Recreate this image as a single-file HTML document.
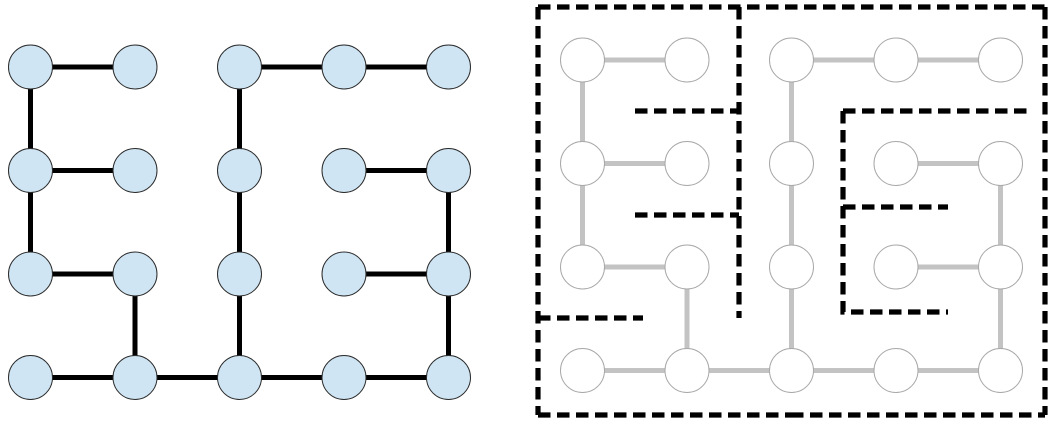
<!DOCTYPE html>
<html>
<head>
<meta charset="utf-8">
<style>
  html, body { margin: 0; padding: 0; background: #ffffff; }
  body { width: 1055px; height: 424px; overflow: hidden; }
  svg { display: block; }
</style>
</head>
<body>
<svg width="1055" height="424" viewBox="0 0 1055 424" xmlns="http://www.w3.org/2000/svg">
  <!-- LEFT GRAPH edges -->
  <g stroke="#000" stroke-width="5" stroke-linecap="butt" fill="none">
    <line x1="30.5" y1="67" x2="135" y2="67"/>
    <line x1="239.5" y1="67" x2="344" y2="67"/>
    <line x1="344" y1="67" x2="448.5" y2="67"/>
    <line x1="30.5" y1="67" x2="30.5" y2="170.5"/>
    <line x1="30.5" y1="170.5" x2="30.5" y2="274"/>
    <line x1="239.5" y1="67" x2="239.5" y2="377.5"/>
    <line x1="30.5" y1="170.5" x2="135" y2="170.5"/>
    <line x1="344" y1="170.5" x2="448.5" y2="170.5"/>
    <line x1="448.5" y1="170.5" x2="448.5" y2="377.5"/>
    <line x1="30.5" y1="274" x2="135" y2="274"/>
    <line x1="344" y1="274" x2="448.5" y2="274"/>
    <line x1="135" y1="274" x2="135" y2="377.5"/>
    <line x1="30.5" y1="377.5" x2="448.5" y2="377.5"/>
  </g>
  <!-- LEFT GRAPH nodes -->
  <g fill="#cfe5f3" stroke="#2a2a2a" stroke-width="1">
    <circle cx="30.5" cy="67" r="22"/><circle cx="135" cy="67" r="22"/><circle cx="239.5" cy="67" r="22"/><circle cx="344" cy="67" r="22"/><circle cx="448.5" cy="67" r="22"/>
    <circle cx="30.5" cy="170.5" r="22"/><circle cx="135" cy="170.5" r="22"/><circle cx="239.5" cy="170.5" r="22"/><circle cx="344" cy="170.5" r="22"/><circle cx="448.5" cy="170.5" r="22"/>
    <circle cx="30.5" cy="274" r="22"/><circle cx="135" cy="274" r="22"/><circle cx="239.5" cy="274" r="22"/><circle cx="344" cy="274" r="22"/><circle cx="448.5" cy="274" r="22"/>
    <circle cx="30.5" cy="377.5" r="22"/><circle cx="135" cy="377.5" r="22"/><circle cx="239.5" cy="377.5" r="22"/><circle cx="344" cy="377.5" r="22"/><circle cx="448.5" cy="377.5" r="22"/>
  </g>

  <!-- RIGHT GRAPH edges -->
  <g stroke="#c3c3c3" stroke-width="5" fill="none">
    <line x1="582.5" y1="60" x2="687" y2="60"/>
    <line x1="791.5" y1="60" x2="1000.5" y2="60"/>
    <line x1="582.5" y1="60" x2="582.5" y2="267"/>
    <line x1="791.5" y1="60" x2="791.5" y2="370.5"/>
    <line x1="582.5" y1="163.5" x2="687" y2="163.5"/>
    <line x1="896" y1="163.5" x2="1000.5" y2="163.5"/>
    <line x1="1000.5" y1="163.5" x2="1000.5" y2="370.5"/>
    <line x1="582.5" y1="267" x2="687" y2="267"/>
    <line x1="896" y1="267" x2="1000.5" y2="267"/>
    <line x1="687" y1="267" x2="687" y2="370.5"/>
    <line x1="582.5" y1="370.5" x2="1000.5" y2="370.5"/>
  </g>
  <!-- RIGHT GRAPH nodes -->
  <g fill="#ffffff" stroke="#a8a8a8" stroke-width="1">
    <circle cx="582.5" cy="60" r="22"/><circle cx="687" cy="60" r="22"/><circle cx="791.5" cy="60" r="22"/><circle cx="896" cy="60" r="22"/><circle cx="1000.5" cy="60" r="22"/>
    <circle cx="582.5" cy="163.5" r="22"/><circle cx="687" cy="163.5" r="22"/><circle cx="791.5" cy="163.5" r="22"/><circle cx="896" cy="163.5" r="22"/><circle cx="1000.5" cy="163.5" r="22"/>
    <circle cx="582.5" cy="267" r="22"/><circle cx="687" cy="267" r="22"/><circle cx="791.5" cy="267" r="22"/><circle cx="896" cy="267" r="22"/><circle cx="1000.5" cy="267" r="22"/>
    <circle cx="582.5" cy="370.5" r="22"/><circle cx="687" cy="370.5" r="22"/><circle cx="791.5" cy="370.5" r="22"/><circle cx="896" cy="370.5" r="22"/><circle cx="1000.5" cy="370.5" r="22"/>
  </g>

  <!-- MAZE dashed walls -->
  <g stroke="#000" stroke-width="5.2" stroke-dasharray="12.5 6.5" fill="none">
    <path d="M538,7 H1045"/>
    <path d="M1045,7 V415"/>
    <path d="M538,7 V415"/>
    <path d="M538,415 H791"/>
    <path d="M791,415 H1045"/>
    <path d="M739,7 V318"/>
    <path d="M635,111 H739"/>
    <path d="M635,215 H739"/>
    <path d="M538,318 H643"/>
    <path d="M843,111 H1030"/>
    <path d="M843,111 V312 H948"/>
    <path d="M843,207 H948"/>
  </g>
</svg>
</body>
</html>
